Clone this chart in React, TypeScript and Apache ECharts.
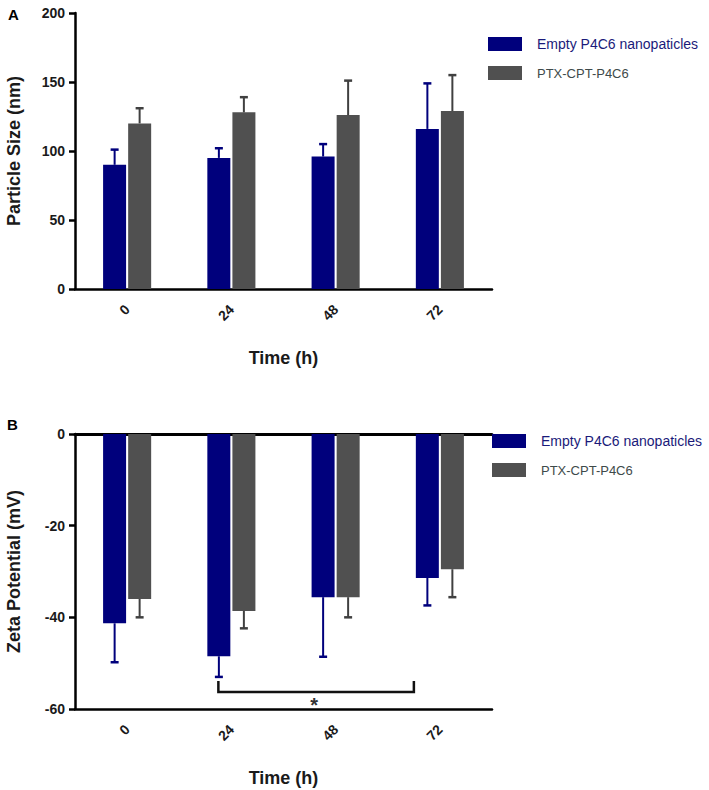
import React, { useEffect, useRef } from "react";
import * as echarts from "echarts";

const timeLabels = ["0", "24", "48", "72"];
const seriesNames = ["Empty P4C6 nanopaticles", "PTX-CPT-P4C6"];

// Panel A: particle size (nm)
const sizeEmpty = [90, 95, 96, 116];
const sizeEmptySd = [11, 7, 9, 33];
const sizePtx = [120, 128, 126, 129];
const sizePtxSd = [11, 11, 25, 26];

// Panel B: zeta potential (mV)
const zetaEmpty = [-41.3, -48.5, -35.6, -31.4];
const zetaEmptySd = [8.5, 4.5, 13, 6];
const zetaPtx = [-36, -38.6, -35.6, -29.5];
const zetaPtxSd = [4, 3.8, 4.4, 6.1];

const sizeTicks = [0, 200, 50];
const zetaTicks = [-60, 0, 20];

const NAVY = "#00007c";
const GRAY = "#505050";
const FONT = "Arial, 'Liberation Sans', sans-serif";

function errorSeries(name: string, means: number[], sds: number[], dir: number, offset: number, color: string, axisIdx: number) {
  return {
    type: "custom",
    name: name + " SD",
    xAxisIndex: axisIdx,
    yAxisIndex: axisIdx === 0 ? 0 : 1,
    z: 5,
    silent: true,
    data: means.map((m, i) => [i, m, m + dir * sds[i]]),
    encode: { x: 0, y: [1, 2] },
    renderItem: (params: any, api: any) => {
      const i = api.value(0);
      const p0 = api.coord([i, api.value(1)]);
      const p1 = api.coord([i, api.value(2)]);
      const cx = p0[0] + offset;
      return {
        type: "group",
        children: [
          { type: "line", shape: { x1: cx, y1: p0[1], x2: cx, y2: p1[1] }, style: { stroke: color, lineWidth: 2 } },
          { type: "line", shape: { x1: cx - 4, y1: p1[1], x2: cx + 4, y2: p1[1] }, style: { stroke: color, lineWidth: 2.5 } },
        ],
      };
    },
  };
}

export default function App() {
  const ref = useRef<HTMLDivElement>(null);
  useEffect(() => {
    if (!ref.current) return;
    const chart = echarts.init(ref.current, null, { renderer: "svg" });
    const axisLabelStyle = { color: "#1a1a1a", fontWeight: "bold", fontSize: 14, fontFamily: FONT };
    const nameStyle = { color: "#1a1a1a", fontWeight: "bold", fontSize: 18, fontFamily: FONT };
    const catAxis = (gridIndex: number) => ({
      type: "category",
      gridIndex,
      data: timeLabels,
      name: "Time (h)",
      nameLocation: "middle",
      nameGap: 60,
      nameMoveOverlap: false,
      nameTextStyle: nameStyle,
      axisLine: { onZero: false, lineStyle: { color: "#000", width: 2.5 } },
      axisTick: { alignWithLabel: true, length: 6, lineStyle: { color: "#000", width: 2.5 } },
      axisLabel: { ...axisLabelStyle, rotate: 45, margin: 18 },
      splitLine: { show: false },
    });
    const legendBase = {
      orient: "vertical",
      itemWidth: 34,
      itemHeight: 14,
      itemGap: 15,
      icon: "rect",
      selectedMode: false,
      textStyle: { fontFamily: FONT, fontSize: 14, padding: [0, 0, 0, 10] },
      data: [
        { name: seriesNames[0], textStyle: { color: "#1a1a7a" } },
        { name: seriesNames[1], textStyle: { color: "#3e4a4a", fontSize: 13 } },
      ],
    };
    const option: any = {
      animation: false,
      backgroundColor: "#fff",
      grid: [
        { left: 75, top: 13, width: 417, height: 276, outerBoundsMode: "none", containLabel: false },
        { left: 75, top: 434, width: 417, height: 275, outerBoundsMode: "none", containLabel: false },
      ],
      xAxis: [
        catAxis(0),
        catAxis(1),
        {
          type: "category",
          gridIndex: 1,
          position: "top",
          data: timeLabels,
          axisLine: { onZero: false, lineStyle: { color: "#000", width: 3 } },
          axisTick: { show: false },
          axisLabel: { show: false },
        },
      ],
      yAxis: [
        {
          type: "value",
          gridIndex: 0,
          min: sizeTicks[0],
          max: sizeTicks[1],
          interval: sizeTicks[2],
          name: "Particle Size (nm)",
          nameLocation: "middle",
          nameGap: 52,
          nameMoveOverlap: false,
          nameTextStyle: nameStyle,
          axisLine: { show: true, lineStyle: { color: "#000", width: 2.5 } },
          axisTick: { show: true, length: 6, lineStyle: { color: "#000", width: 2.5 } },
          axisLabel: { ...axisLabelStyle, margin: 10 },
          splitLine: { show: false },
        },
        {
          type: "value",
          gridIndex: 1,
          min: zetaTicks[0],
          max: zetaTicks[1],
          interval: zetaTicks[2],
          name: "Zeta Potential (mV)",
          nameLocation: "middle",
          nameGap: 52,
          nameMoveOverlap: false,
          nameTextStyle: nameStyle,
          axisLine: { show: true, lineStyle: { color: "#000", width: 2.5 } },
          axisTick: { show: true, length: 6, lineStyle: { color: "#000", width: 2.5 } },
          axisLabel: { ...axisLabelStyle, margin: 10 },
          splitLine: { show: false },
        },
      ],
      legend: [
        { ...legendBase, left: 483, top: 32 },
        { ...legendBase, left: 487, top: 429 },
      ],
      series: [
        { type: "bar", name: seriesNames[0], xAxisIndex: 0, yAxisIndex: 0, data: sizeEmpty, barWidth: 23, barGap: "9%", itemStyle: { color: NAVY } },
        { type: "bar", name: seriesNames[1], xAxisIndex: 0, yAxisIndex: 0, data: sizePtx, barWidth: 23, barGap: "9%", itemStyle: { color: GRAY } },
        { type: "bar", name: seriesNames[0], xAxisIndex: 1, yAxisIndex: 1, data: zetaEmpty, barWidth: 23, barGap: "9%", itemStyle: { color: NAVY } },
        { type: "bar", name: seriesNames[1], xAxisIndex: 1, yAxisIndex: 1, data: zetaPtx, barWidth: 23, barGap: "9%", itemStyle: { color: GRAY } },
        errorSeries(seriesNames[0], sizeEmpty, sizeEmptySd, 1, -12.5, NAVY, 0),
        errorSeries(seriesNames[1], sizePtx, sizePtxSd, 1, 12.5, "#404040", 0),
        errorSeries(seriesNames[0], zetaEmpty, zetaEmptySd, -1, -12.5, NAVY, 1),
        errorSeries(seriesNames[1], zetaPtx, zetaPtxSd, -1, 12.5, "#404040", 1),
        {
          type: "custom",
          name: "significance",
          xAxisIndex: 1,
          yAxisIndex: 1,
          silent: true,
          z: 6,
          data: [[1, 3, -56.3]],
          encode: { x: [0, 1], y: 2 },
          renderItem: (params: any, api: any) => {
            const a = api.coord([api.value(0), api.value(2)]);
            const b = api.coord([api.value(1), api.value(2)]);
            const x1 = a[0] - 13;
            const x2 = b[0] - 26;
            const y = a[1];
            return {
              type: "group",
              children: [
                { type: "polyline", shape: { points: [[x1, y - 11], [x1, y], [x2, y], [x2, y - 11]] }, style: { stroke: "#111", lineWidth: 2.5, fill: "none" } },
                { type: "text", style: { text: "*", x: (x1 + x2) / 2 - 6, y: y + 3, fontSize: 20, fontWeight: "bold", fill: "#333", fontFamily: FONT } },
              ],
            };
          },
        },
      ],
      graphic: [
        { type: "text", left: 8, top: 7, style: { text: "A", fontSize: 15, fontWeight: "bold", fill: "#000", fontFamily: FONT } },
        { type: "text", left: 7, top: 417, style: { text: "B", fontSize: 15, fontWeight: "bold", fill: "#000", fontFamily: FONT } },
      ],
    };
    chart.setOption(option);
    return () => chart.dispose();
  }, []);
  return <div ref={ref} style={{ position: "fixed", left: 0, top: 0, width: 709, height: 790 }} />;
}
